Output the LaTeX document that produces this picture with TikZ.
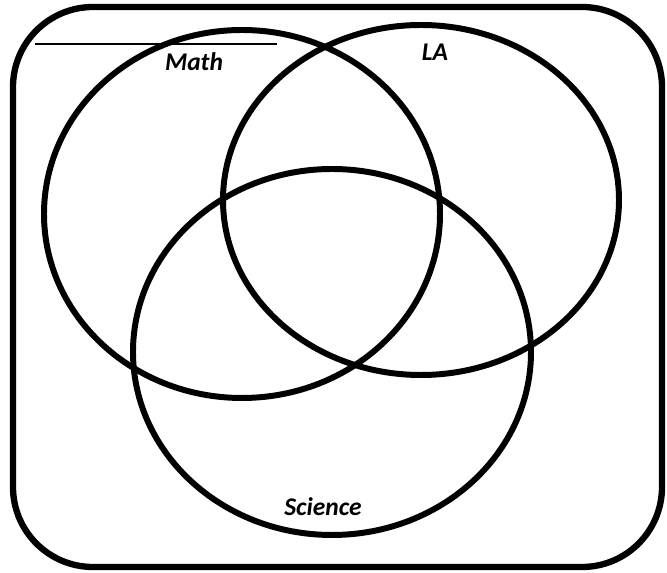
\documentclass[tikz,border=0pt]{standalone}
\usepackage{fontspec}
\newfontfamily\labelfont{Carlito}
\tikzset{
  ring/.style={line width=3.4pt},
  setlabel/.style={font=\labelfont\bfseries\itshape\fontsize{14.5}{16}\selectfont, inner sep=0pt}
}
\begin{document}
\begin{tikzpicture}[x=0.02cm, y=-0.02cm]
  \useasboundingbox (0,0) rectangle (667,573);
  % Outer box
  \draw[line width=3.6pt, rounded corners=80*0.02cm] (13,7) rectangle (662,567);
  % Thin line at the top
  \coordinate (lineA) at (35,44);
  \coordinate (lineB) at (277,44);
  \draw[line width=0.8pt] (lineA) -- (lineB);
  % Circles
  \draw[ring] (242,214) ellipse [x radius=198, y radius=184];
  \draw[ring] (421,200) ellipse [x radius=198, y radius=175];
  \draw[ring] (332,352) ellipse [x radius=199, y radius=183];
  % Labels
  \node[setlabel] (math) at (194,62) {Math};
  \node[setlabel] (la) at (435,52) {LA};
  \node[setlabel] (science) at (323,507) {Science};
\end{tikzpicture}
\end{document}
